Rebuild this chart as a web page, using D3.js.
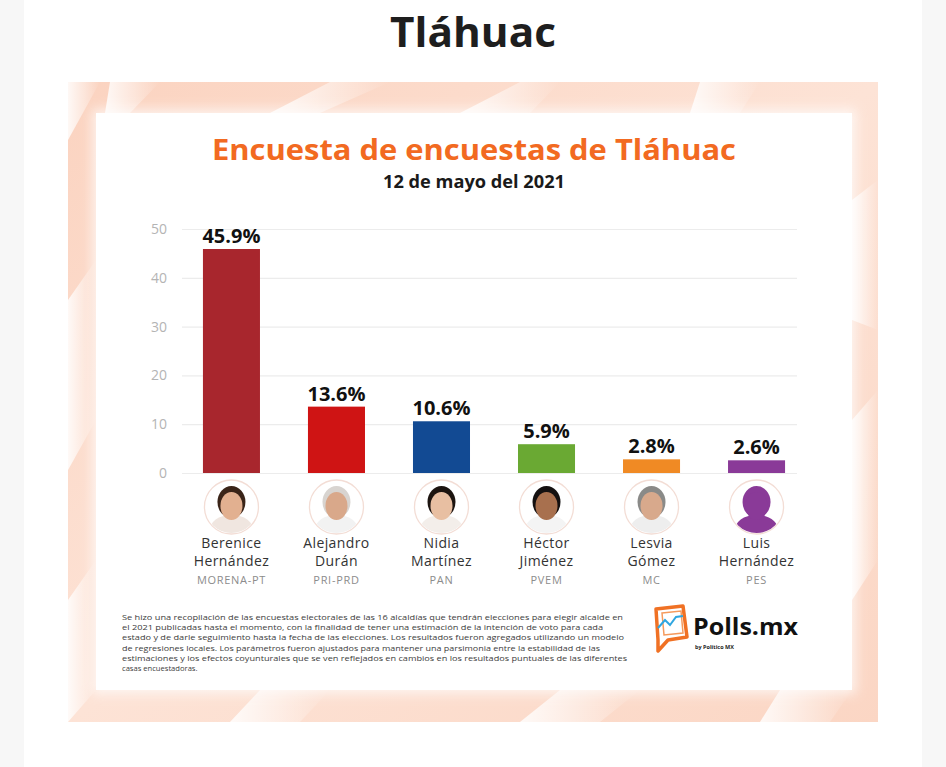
<!DOCTYPE html>
<html>
<head>
<meta charset="utf-8">
<script src="https://cdn.jsdelivr.net/npm/d3@7"></script>
<style>
  html, body { margin: 0; padding: 0; background: #ffffff; }
  svg { display: block; }
</style>
</head>
<body>
<svg id="chart" width="946" height="767"></svg>
<script>
// data
let candidates = ["Berenice Hernández", "Alejandro Durán", "Nidia Martínez", "Héctor Jiménez", "Lesvia Gómez", "Luis Hernández"];
let first_lines = ["Berenice", "Alejandro", "Nidia", "Héctor", "Lesvia", "Luis"];
let second_lines = ["Hernández", "Durán", "Martínez", "Jiménez", "Gómez", "Hernández"];
let parties = ["MORENA-PT", "PRI-PRD", "PAN", "PVEM", "MC", "PES"];
let values = [45.9, 13.6, 10.6, 5.9, 2.8, 2.6];
let bar_colors = ["#a8262d", "#cf1414", "#124a93", "#6aa933", "#f08a24", "#8a3a98"];
let y_ticks = [0, 10, 20, 30, 40, 50];
let note_lines = [
    "Se hizo una recopilación de las encuestas electorales de las 16 alcaldías que tendrán elecciones para elegir alcalde en",
    "el 2021 publicadas hasta el momento, con la finalidad de tener una estimación de la intención de voto para cada",
    "estado y de darle seguimiento hasta la fecha de las elecciones. Los resultados fueron agregados utilizando un modelo",
    "de regresiones locales. Los parámetros fueron ajustados para mantener una parsimonia entre la estabilidad de las",
    "estimaciones y los efectos coyunturales que se ven reflejados en cambios en los resultados puntuales de las diferentes",
    "casas encuestadoras."
];
let note_ends = [623, 603, 624, 600, 627, 0];

let svg = d3.select("#chart");
let defs = svg.append("defs");

// page side margins
svg.append("rect").attr("x", 0).attr("y", 0).attr("width", 24).attr("height", 767).style("fill", "#f7f7f7");
svg.append("rect").attr("x", 922).attr("y", 0).attr("width", 24).attr("height", 767).style("fill", "#f7f7f7");

svg.append("text")
    .attr("x", 473).attr("y", 47)
    .attr("textLength", 166).attr("lengthAdjust", "spacingAndGlyphs")
    .style("text-anchor", "middle")
    .style("font-family", "'Open Sans', sans-serif")
    .style("font-weight", "700")
    .style("font-size", "41px")
    .style("fill", "#1e1e1e")
    .text("Tláhuac");

// peach backdrop
let bg = defs.append("linearGradient").attr("id", "bg").attr("x1", 0).attr("y1", 0).attr("x2", 1).attr("y2", 1);
bg.append("stop").attr("offset", "0%").attr("stop-color", "#fbd3c0");
bg.append("stop").attr("offset", "50%").attr("stop-color", "#fde3d6");
bg.append("stop").attr("offset", "100%").attr("stop-color", "#fbd6c4");
let hl = defs.append("linearGradient").attr("id", "hl").attr("x1", 0).attr("y1", 0).attr("x2", 1).attr("y2", 0);
hl.append("stop").attr("offset", "0%").attr("stop-color", "#ffffff").attr("stop-opacity", 0.85);
hl.append("stop").attr("offset", "100%").attr("stop-color", "#ffffff").attr("stop-opacity", 0);

svg.append("rect").attr("x", 68).attr("y", 82).attr("width", 810).attr("height", 640).style("fill", "url(#bg)");
let shards = [
    [[68, 82], [100, 82], [68, 140]],
    [[110, 82], [160, 82], [130, 113], [105, 113]],
    [[330, 82], [390, 82], [320, 113], [270, 113]],
    [[520, 82], [560, 82], [530, 113], [460, 113]],
    [[700, 82], [760, 82], [740, 113], [690, 113]],
    [[852, 200], [878, 180], [878, 330], [852, 320]],
    [[852, 420], [878, 390], [878, 560], [852, 600]],
    [[68, 300], [96, 260], [96, 420], [68, 470]],
    [[68, 600], [96, 560], [96, 690], [68, 722]],
    [[260, 690], [330, 690], [300, 722], [230, 722]],
    [[560, 690], [640, 690], [600, 722], [520, 722]],
    [[780, 690], [852, 690], [830, 722], [760, 722]]
];
svg.append("g").selectAll("polygon")
    .data(shards)
    .enter()
    .append("polygon")
    .attr("points", d => d.map(p => p.join(",")).join(" "))
    .style("fill", "url(#hl)");

// white card with soft glow
let glow = defs.append("filter").attr("id", "glow").attr("x", "-5%").attr("y", "-5%").attr("width", "110%").attr("height", "110%");
glow.append("feGaussianBlur").attr("stdDeviation", 6);
svg.append("rect").attr("x", 92).attr("y", 109).attr("width", 764).attr("height", 585).style("fill", "#ffffff").style("opacity", 0.7).attr("filter", "url(#glow)");
svg.append("rect").attr("x", 96).attr("y", 113).attr("width", 756).attr("height", 577).style("fill", "#ffffff");

svg.append("text")
    .attr("x", 474).attr("y", 160)
    .attr("textLength", 524).attr("lengthAdjust", "spacingAndGlyphs")
    .style("text-anchor", "middle")
    .style("font-family", "'Open Sans', sans-serif")
    .style("font-weight", "700")
    .style("font-size", "29px")
    .style("fill", "#f26a21")
    .text("Encuesta de encuestas de Tláhuac");

svg.append("text")
    .attr("x", 474).attr("y", 188)
    .attr("textLength", 182).attr("lengthAdjust", "spacingAndGlyphs")
    .style("text-anchor", "middle")
    .style("font-family", "'Open Sans', sans-serif")
    .style("font-weight", "700")
    .style("font-size", "17px")
    .style("fill", "#1a1a1a")
    .text("12 de mayo del 2021");

// scales
let x = d3.scaleBand().domain(candidates).range([179, 809]).paddingInner(0.457).paddingOuter(0.228);
let y = d3.scaleLinear().domain([0, 50]).range([473, 229]);

let yAxis = svg.append("g")
    .attr("transform", "translate(182,0)")
    .call(d3.axisLeft(y).tickValues(y_ticks).tickSize(-615).tickPadding(15));
yAxis.select(".domain").remove();
yAxis.selectAll("line").style("stroke", "#ececec").style("stroke-width", 1.2);
yAxis.selectAll("text")
    .style("font-family", "'Open Sans', sans-serif")
    .style("font-size", "14px")
    .style("fill", "#b4b4b4");

svg.append("g").selectAll("rect")
    .data(values)
    .enter()
    .append("rect")
    .attr("x", (d, i) => x(candidates[i]))
    .attr("y", d => y(d))
    .attr("width", x.bandwidth())
    .attr("height", d => y(0) - y(d))
    .style("fill", (d, i) => bar_colors[i]);

svg.append("g").selectAll("text")
    .data(values)
    .enter()
    .append("text")
    .attr("x", (d, i) => x(candidates[i]) + x.bandwidth() / 2)
    .attr("y", d => y(d) - 6)
    .style("text-anchor", "middle")
    .style("font-family", "'Open Sans', sans-serif")
    .style("font-weight", "700")
    .style("font-size", "20px")
    .style("fill", "#111111")
    .text(d => d.toFixed(1) + "%");

// portrait placeholders
let skin = ["#e2b090", "#d9a88a", "#e8bfa2", "#a8704e", "#d8a98c", "#8a3a98"];
let hair = ["#3a2418", "#d8d4d0", "#1c1410", "#141010", "#8a8a88", "#8a3a98"];
let shirt = ["#f0e6e0", "#f2f2f2", "#f3eeea", "#f4f4f4", "#eeeeee", "#8a3a98"];
candidates.forEach(function(c, i){
    let cx = x(c) + x.bandwidth() / 2;
    let cy = 507;
    let id = "clip" + i;
    defs.append("clipPath").attr("id", id).append("circle").attr("cx", cx).attr("cy", cy).attr("r", 26);
    let g = svg.append("g");
    g.append("circle").attr("cx", cx).attr("cy", cy).attr("r", 27).style("fill", "#ffffff").style("stroke", "#f3ddd5").style("stroke-width", 1.3);
    let inner = g.append("g").attr("clip-path", "url(#" + id + ")");
    inner.append("path")
        .attr("d", "M" + (cx - 24) + "," + (cy + 30) + " Q" + (cx - 22) + "," + (cy + 8) + " " + cx + "," + (cy + 8) + " Q" + (cx + 22) + "," + (cy + 8) + " " + (cx + 24) + "," + (cy + 30) + " Z")
        .style("fill", shirt[i]);
    inner.append("ellipse").attr("cx", cx).attr("cy", cy - 5).attr("rx", 14).attr("ry", 16).style("fill", hair[i]);
    inner.append("ellipse").attr("cx", cx).attr("cy", cy - 1).attr("rx", 11).attr("ry", 14).style("fill", skin[i]);
});

let labels = svg.append("g")
    .style("font-family", "'Open Sans', sans-serif")
    .style("text-anchor", "middle");
labels.selectAll("text.first")
    .data(first_lines)
    .enter()
    .append("text")
    .attr("class", "first")
    .attr("x", (d, i) => x(candidates[i]) + x.bandwidth() / 2)
    .attr("y", 548)
    .style("font-size", "14px")
    .style("letter-spacing", "0.4px")
    .style("fill", "#333333")
    .text(d => d);
labels.selectAll("text.second")
    .data(second_lines)
    .enter()
    .append("text")
    .attr("class", "second")
    .attr("x", (d, i) => x(candidates[i]) + x.bandwidth() / 2)
    .attr("y", 566)
    .style("font-size", "14px")
    .style("letter-spacing", "0.4px")
    .style("fill", "#333333")
    .text(d => d);
labels.selectAll("text.party")
    .data(parties)
    .enter()
    .append("text")
    .attr("class", "party")
    .attr("x", (d, i) => x(candidates[i]) + x.bandwidth() / 2)
    .attr("y", 584)
    .style("font-size", "11px")
    .style("letter-spacing", "0.7px")
    .style("fill", "#8c8c8c")
    .text(d => d);

// footnote
let note = svg.append("g")
    .style("font-family", "'Open Sans', sans-serif")
    .style("font-size", "7.6px")
    .style("fill", "#3c3c3c");
note.selectAll("text")
    .data(note_lines)
    .enter()
    .append("text")
    .attr("x", 122)
    .attr("y", (d, i) => 620 + i * 10.2)
    .each(function(d, i){
        if(note_ends[i] > 0){
            d3.select(this).attr("textLength", note_ends[i] - 122).attr("lengthAdjust", "spacingAndGlyphs");
        }
    })
    .text(d => d);

// Polls.mx logo
let logo = svg.append("g");
logo.append("path")
    .attr("d", "M656,609 L683,606 L687,637 L668,640 L658,651 L658,640 Z")
    .style("fill", "none")
    .style("stroke", "#f07124")
    .style("stroke-width", 3.5)
    .style("stroke-linejoin", "round");
logo.append("path")
    .attr("d", "M662,613 L681,611 L683,633 L664,635 Z")
    .style("fill", "none")
    .style("stroke", "#f59a5c")
    .style("stroke-width", 1.5);
logo.append("path")
    .attr("d", "M658,628 L665,620 L670,625 L676,617 L683,616")
    .style("fill", "none")
    .style("stroke", "#2fa6e0")
    .style("stroke-width", 2);
logo.append("text")
    .attr("x", 693).attr("y", 635)
    .attr("textLength", 105).attr("lengthAdjust", "spacingAndGlyphs")
    .style("font-family", "'Open Sans', sans-serif")
    .style("font-weight", "700")
    .style("font-size", "24px")
    .style("fill", "#111111")
    .text("Polls.mx");
logo.append("text")
    .attr("x", 695).attr("y", 649)
    .style("font-family", "'Open Sans', sans-serif")
    .style("font-weight", "700")
    .style("font-size", "5.5px")
    .style("fill", "#222222")
    .text("by Político MX");
</script>
</body>
</html>
